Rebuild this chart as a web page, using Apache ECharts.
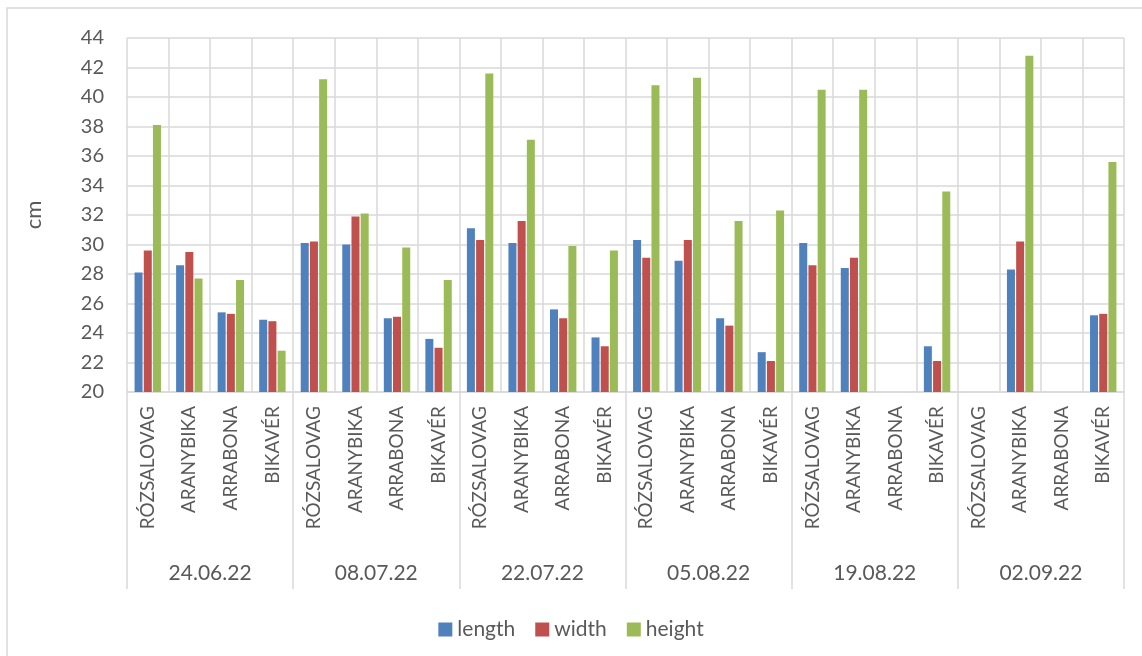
<!DOCTYPE html>
<html>
<head>
<meta charset="utf-8">
<script src="https://cdn.jsdelivr.net/npm/echarts@6/dist/echarts.min.js"></script>
<style>
html,body{margin:0;padding:0;background:#fff;}
#chart{width:1142px;height:656px;}
</style>
</head>
<body>
<div id="chart"></div>
<script>
const dates = ['24.06.22','08.07.22','22.07.22','05.08.22','19.08.22','02.09.22'];
const varieties = ['RÓZSALOVAG','ARANYBIKA','ARRABONA','BIKAVÉR'];
const seriesNames = ['length','width','height'];
const lengthValues = [28.1,28.6,25.4,24.9, 30.1,30.0,25.0,23.6, 31.1,30.1,25.6,23.7, 30.3,28.9,25.0,22.7, 30.1,28.4,0,23.1, 0,28.3,0,25.2];
const widthValues  = [29.6,29.5,25.3,24.8, 30.2,31.9,25.1,23.0, 30.3,31.6,25.0,23.1, 29.1,30.3,24.5,22.1, 28.6,29.1,0,22.1, 0,30.2,0,25.3];
const heightValues = [38.1,27.7,27.6,22.8, 41.2,32.1,29.8,27.6, 41.6,37.1,29.9,29.6, 40.8,41.3,31.6,32.3, 40.5,40.5,0,33.6, 0,42.8,0,35.6];
const yTicks = [20,22,24,26,28,30,32,34,36,38,40,42,44];

const colors = ['#4F81BD','#C0504D','#9BBB59'];
const txt = '#595959';
const grid = '#D9D9D9';
const font = 'Lato, "Noto Sans", sans-serif';

const categories = [];
dates.forEach(d => varieties.forEach(v => categories.push(v)));
const values = [lengthValues, widthValues, heightValues];

const chart = echarts.init(document.getElementById('chart'), null, {renderer:'canvas'});
chart.setOption({
  animation: false,
  backgroundColor: '#fff',
  textStyle: {fontFamily: font, color: txt},
  graphic: [{
    type: 'rect', shape: {x: 7, y: 8, width: 1160, height: 680},
    style: {fill: 'none', stroke: grid, lineWidth: 1.5}, silent: true, z: -1
  }],
  grid: {left: 127, right: 18, top: 38, bottom: 264, containLabel: false},
  legend: {
    top: 614, left: 'center', itemWidth: 14, itemHeight: 14, itemGap: 20,
    icon: 'rect',
    textStyle: {fontFamily: font, fontSize: 21, color: txt},
    data: seriesNames
  },
  xAxis: [{
    type: 'category', data: categories, position: 'bottom',
    axisLine: {show: true, lineStyle: {color: grid, width: 1.5}},
    axisTick: {show: false},
    splitLine: {show: true, interval: 0, lineStyle: {color: grid, width: 1.5}},
    axisLabel: {interval: 0, rotate: 90, margin: 14, fontFamily: font, fontSize: 19, color: txt}
  }, {
    type: 'category', data: dates, position: 'bottom', offset: 0,
    axisLine: {show: false},
    axisTick: {show: true, interval: 0, length: 197, inside: false, lineStyle: {color: grid, width: 1.5}},
    splitLine: {show: false},
    axisLabel: {interval: 0, margin: 171, fontFamily: font, fontSize: 21, color: txt}
  }],
  yAxis: {
    type: 'value', min: 20, max: 44, interval: 2,
    name: 'cm', nameLocation: 'middle', nameRotate: 90, nameGap: 82,
    nameTextStyle: {fontFamily: font, fontSize: 22, color: txt},
    axisLine: {show: false}, axisTick: {show: false},
    splitLine: {show: true, lineStyle: {color: grid, width: 1.5}},
    axisLabel: {margin: 23, fontFamily: font, fontSize: 20, color: txt,
      formatter: v => yTicks.includes(v) ? String(v) : ''}
  },
  series: seriesNames.map((n, i) => ({
    name: n, type: 'bar', xAxisIndex: 0, data: values[i],
    barWidth: 8, barGap: '15%', clip: true,
    itemStyle: {color: colors[i]},
    emphasis: {disabled: true}
  }))
});
</script>
</body>
</html>
